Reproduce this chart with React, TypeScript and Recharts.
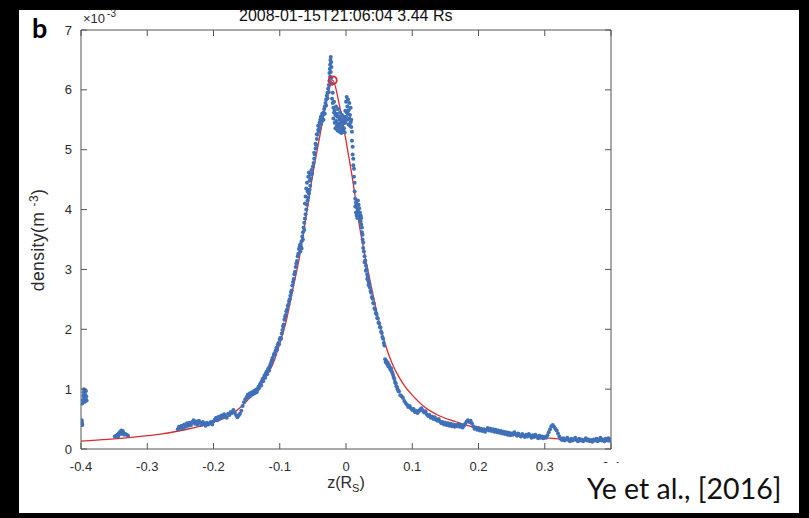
import { ComposedChart, Scatter, Line, XAxis, YAxis, ReferenceDot } from "recharts";

const zTicks = [-0.4, -0.3, -0.2, -0.1, 0, 0.1, 0.2, 0.3, 0.4];
const densityTicks = [0, 1, 2, 3, 4, 5, 6, 7];

// fitted profile (red line)
const fitZ = [
  -0.4, -0.36, -0.32, -0.28, -0.24, -0.2, -0.18, -0.16, -0.14, -0.12, -0.11, -0.1, -0.09, -0.08,
  -0.07, -0.06, -0.05, -0.04, -0.03, -0.02, -0.01, 0, 0.01, 0.02, 0.03, 0.04, 0.05, 0.06, 0.07,
  0.08, 0.09, 0.1, 0.12, 0.14, 0.17, 0.2, 0.24, 0.28, 0.32, 0.36, 0.4,
];
const fitDensity = [
  0.13, 0.16, 0.2, 0.25, 0.33, 0.45, 0.53, 0.69, 0.92, 1.22, 1.43, 1.76, 2.15, 2.68,
  3.22, 3.9, 4.6, 5.2, 5.78, 6.16, 5.75, 5.15, 4.5, 3.75, 3.15, 2.62, 2.12, 1.72, 1.42,
  1.2, 1.03, 0.9, 0.69, 0.56, 0.44, 0.34, 0.26, 0.21, 0.17, 0.145, 0.12,
];
const peakZ = -0.02;
const peakDensity = 6.16;

// measured density samples (blue dots)
const edgeSamples: [number, number][] = [
  [-0.3995, 0.41], [-0.399, 0.45], [-0.399, 0.48], [-0.3985, 0.43], [-0.398, 0.4],
  [-0.398, 0.76], [-0.397, 0.82], [-0.3965, 0.89], [-0.396, 0.95], [-0.3955, 1.0],
  [-0.395, 0.86], [-0.394, 0.79], [-0.394, 0.92], [-0.393, 0.84], [-0.3925, 0.97],
  [-0.392, 0.88], [-0.3915, 0.81],
];

const gapSamples: [number, number][] = [
  [-0.349, 0.21], [-0.347, 0.22], [-0.345, 0.24], [-0.344, 0.21], [-0.343, 0.26],
  [-0.341, 0.29], [-0.340, 0.25], [-0.339, 0.31], [-0.338, 0.27], [-0.337, 0.3],
  [-0.336, 0.27], [-0.335, 0.24], [-0.333, 0.25], [-0.331, 0.24], [-0.329, 0.22],
];

const leftTail: [number, number][] = [
  [-0.254, 0.33], [-0.252, 0.37], [-0.25, 0.35], [-0.248, 0.39], [-0.246, 0.34], [-0.244, 0.41],
  [-0.242, 0.37], [-0.24, 0.43], [-0.238, 0.39], [-0.236, 0.44], [-0.234, 0.4], [-0.232, 0.45],
  [-0.23, 0.48], [-0.228, 0.42], [-0.226, 0.46], [-0.224, 0.41], [-0.222, 0.47], [-0.22, 0.44],
  [-0.218, 0.4], [-0.216, 0.45], [-0.214, 0.42], [-0.212, 0.39], [-0.21, 0.44], [-0.208, 0.41],
  [-0.206, 0.43], [-0.204, 0.45], [-0.202, 0.41], [-0.2, 0.46], [-0.198, 0.49], [-0.196, 0.52],
  [-0.194, 0.48], [-0.192, 0.54], [-0.19, 0.51], [-0.188, 0.56], [-0.186, 0.53], [-0.184, 0.58],
  [-0.182, 0.55], [-0.18, 0.52], [-0.178, 0.59], [-0.176, 0.57], [-0.174, 0.62], [-0.172, 0.6],
  [-0.17, 0.65], [-0.168, 0.61], [-0.166, 0.57], [-0.164, 0.53], [-0.162, 0.56], [-0.16, 0.59],
  [-0.158, 0.64], [-0.156, 0.72], [-0.154, 0.78], [-0.152, 0.83], [-0.15, 0.86],
];

const leftFlank: [number, number][] = [
  [-0.149, 0.88], [-0.148, 0.91], [-0.147, 0.87], [-0.146, 0.9], [-0.145, 0.93], [-0.144, 0.89],
  [-0.143, 0.92], [-0.142, 0.95], [-0.141, 0.91], [-0.14, 0.94], [-0.139, 0.97], [-0.138, 0.93],
  [-0.137, 0.96], [-0.136, 0.99], [-0.135, 0.95], [-0.134, 0.98], [-0.133, 1.01], [-0.132, 1.04],
  [-0.131, 1.02], [-0.13, 1.07], [-0.129, 1.1], [-0.128, 1.06], [-0.127, 1.13], [-0.126, 1.17],
  [-0.125, 1.13], [-0.124, 1.19], [-0.123, 1.23], [-0.122, 1.19], [-0.121, 1.26], [-0.12, 1.29],
  [-0.119, 1.25], [-0.118, 1.32], [-0.117, 1.35], [-0.116, 1.31], [-0.115, 1.38], [-0.114, 1.41],
  [-0.113, 1.44], [-0.112, 1.48], [-0.111, 1.52], [-0.11, 1.5], [-0.109, 1.57], [-0.108, 1.6],
  [-0.107, 1.58], [-0.106, 1.65], [-0.105, 1.69], [-0.104, 1.66], [-0.103, 1.74], [-0.102, 1.77],
  [-0.101, 1.75], [-0.1, 1.83], [-0.099, 1.86], [-0.098, 1.84], [-0.097, 1.93], [-0.096, 1.99],
  [-0.095, 2.05], [-0.094, 2.08], [-0.093, 2.16], [-0.092, 2.21], [-0.091, 2.24], [-0.09, 2.3],
  [-0.089, 2.33], [-0.088, 2.39], [-0.087, 2.41], [-0.086, 2.47], [-0.085, 2.5], [-0.084, 2.56],
  [-0.083, 2.62], [-0.082, 2.65], [-0.081, 2.73], [-0.08, 2.79], [-0.079, 2.84], [-0.078, 2.92],
  [-0.077, 2.96], [-0.076, 3.04], [-0.075, 3.1], [-0.074, 3.14], [-0.073, 3.22], [-0.072, 3.26],
  [-0.071, 3.34], [-0.07, 3.38], [-0.069, 3.3], [-0.069, 3.42], [-0.068, 3.38], [-0.067, 3.47],
  [-0.067, 3.35], [-0.066, 3.55], [-0.065, 3.5], [-0.065, 3.62], [-0.064, 3.7], [-0.063, 3.78],
  [-0.063, 3.66], [-0.062, 3.85], [-0.062, 4.1], [-0.061, 3.92], [-0.061, 4.22], [-0.06, 4.0],
  [-0.06, 4.35], [-0.059, 4.08], [-0.059, 4.45], [-0.058, 4.15], [-0.058, 4.3], [-0.057, 4.2],
  [-0.057, 4.55], [-0.056, 4.27], [-0.056, 4.62], [-0.055, 4.33], [-0.055, 4.48], [-0.054, 4.4],
  [-0.054, 4.58], [-0.053, 4.52], [-0.052, 4.66], [-0.051, 4.6], [-0.05, 4.72], [-0.049, 4.78],
  [-0.048, 4.85], [-0.048, 4.95], [-0.047, 4.92], [-0.046, 5.02], [-0.046, 5.1], [-0.045, 5.08],
  [-0.044, 5.18], [-0.044, 5.26], [-0.043, 5.25], [-0.042, 5.33], [-0.042, 5.4], [-0.041, 5.3],
  [-0.04, 5.45], [-0.04, 5.36], [-0.039, 5.5], [-0.038, 5.42], [-0.038, 5.55], [-0.037, 5.52],
  [-0.036, 5.48], [-0.036, 5.6], [-0.035, 5.58], [-0.034, 5.62], [-0.034, 5.5], [-0.033, 5.68],
  [-0.032, 5.72], [-0.032, 5.6], [-0.031, 5.78], [-0.03, 5.84], [-0.03, 5.74], [-0.029, 5.9],
  [-0.028, 5.95], [-0.028, 5.86], [-0.027, 6.02], [-0.026, 6.08], [-0.026, 5.96], [-0.025, 6.15],
  [-0.025, 6.28], [-0.0245, 6.35], [-0.024, 6.22], [-0.024, 6.42], [-0.0235, 6.5], [-0.023, 6.3],
  [-0.023, 6.55], [-0.0225, 6.46], [-0.022, 6.38], [-0.022, 6.2], [-0.021, 6.1], [-0.021, 5.85],
  [-0.02, 5.78], [-0.02, 5.95],
];

const peakTop: [number, number][] = [
  [-0.019, 5.7], [-0.019, 5.52], [-0.018, 5.62], [-0.018, 5.8], [-0.017, 5.45], [-0.017, 5.66],
  [-0.016, 5.58], [-0.016, 5.36], [-0.015, 5.72], [-0.015, 5.48], [-0.014, 5.4], [-0.014, 5.6],
  [-0.013, 5.55], [-0.013, 5.32], [-0.012, 5.68], [-0.012, 5.44], [-0.011, 5.38], [-0.011, 5.56],
  [-0.01, 5.5], [-0.01, 5.3], [-0.009, 5.62], [-0.009, 5.42], [-0.008, 5.35], [-0.008, 5.52],
  [-0.007, 5.46], [-0.007, 5.28], [-0.006, 5.58], [-0.006, 5.38], [-0.005, 5.32], [-0.005, 5.48],
  [-0.004, 5.44], [-0.004, 5.3], [-0.003, 5.36], [-0.003, 5.55], [-0.002, 5.5], [-0.002, 5.29],
  [-0.001, 5.65], [-0.001, 5.45], [0, 5.8], [0, 5.55], [0.001, 5.88], [0.001, 5.62],
  [0.002, 5.72], [0.002, 5.5], [0.003, 5.84], [0.003, 5.6], [0.004, 5.66], [0.004, 5.42],
  [0.005, 5.78], [0.005, 5.52], [0.006, 5.58], [0.006, 5.4], [0.007, 5.7], [0.007, 5.46],
  [0.008, 5.5], [0.008, 5.38], [0.009, 5.3], [0.009, 5.15], [0.01, 5.05], [0.01, 4.92],
  [0.011, 4.85], [0.011, 4.74], [0.012, 4.68], [0.012, 4.55], [0.013, 4.45], [0.013, 4.3],
];

const rightFlank: [number, number][] = [
  [0.014, 4.18], [0.014, 4.05], [0.015, 4.12], [0.015, 3.95], [0.016, 4.08], [0.016, 3.9],
  [0.017, 4.02], [0.017, 3.86], [0.018, 3.98], [0.018, 4.15], [0.019, 3.92], [0.019, 4.08],
  [0.02, 3.88], [0.02, 4.02], [0.021, 3.95], [0.021, 3.84], [0.022, 3.9], [0.022, 3.8],
  [0.023, 3.86], [0.023, 3.75], [0.024, 3.7], [0.024, 3.62], [0.025, 3.58], [0.025, 3.5],
  [0.026, 3.45], [0.026, 3.36], [0.027, 3.3], [0.028, 3.22], [0.028, 3.12], [0.029, 3.15],
  [0.03, 3.06], [0.03, 2.98], [0.031, 3.0], [0.032, 2.92], [0.032, 2.84], [0.033, 2.88],
  [0.034, 2.8], [0.034, 2.74], [0.035, 2.77], [0.036, 2.7], [0.037, 2.64], [0.038, 2.61],
  [0.039, 2.54], [0.04, 2.51], [0.041, 2.44], [0.042, 2.43], [0.043, 2.35], [0.044, 2.33],
  [0.045, 2.27], [0.046, 2.25], [0.047, 2.19], [0.048, 2.18], [0.049, 2.11], [0.05, 2.1],
  [0.051, 2.04], [0.052, 2.03], [0.053, 1.96], [0.054, 1.94], [0.055, 1.87], [0.056, 1.84],
  [0.057, 1.77], [0.058, 1.73], [0.059, 1.5], [0.06, 1.45], [0.061, 1.47], [0.062, 1.42],
  [0.063, 1.44], [0.064, 1.38], [0.065, 1.4], [0.066, 1.36], [0.067, 1.33], [0.068, 1.35],
  [0.069, 1.3], [0.07, 1.27], [0.071, 1.24], [0.072, 1.2], [0.073, 1.17], [0.074, 1.12],
  [0.075, 1.1], [0.076, 1.05], [0.077, 1.03], [0.078, 1.0], [0.079, 0.97], [0.08, 0.96],
  [0.082, 0.9], [0.084, 0.88], [0.086, 0.85], [0.088, 0.8], [0.09, 0.77], [0.092, 0.74],
  [0.094, 0.7], [0.096, 0.72], [0.098, 0.68], [0.1, 0.65], [0.102, 0.67], [0.104, 0.62],
  [0.106, 0.64], [0.108, 0.6], [0.11, 0.63], [0.112, 0.66], [0.114, 0.68], [0.116, 0.64],
  [0.118, 0.61], [0.12, 0.63], [0.122, 0.58], [0.124, 0.55], [0.126, 0.57], [0.128, 0.52],
  [0.13, 0.54], [0.132, 0.5], [0.134, 0.53], [0.136, 0.49], [0.138, 0.47], [0.14, 0.5],
];

const rightTail: [number, number][] = [
  [0.142, 0.46], [0.144, 0.43], [0.146, 0.45], [0.148, 0.41], [0.15, 0.44], [0.152, 0.4],
  [0.154, 0.43], [0.156, 0.39], [0.158, 0.42], [0.16, 0.38], [0.162, 0.41], [0.164, 0.37],
  [0.166, 0.4], [0.168, 0.38], [0.17, 0.41], [0.172, 0.37], [0.174, 0.4], [0.176, 0.36],
  [0.178, 0.39], [0.18, 0.42], [0.182, 0.46], [0.184, 0.48], [0.186, 0.45], [0.188, 0.47],
  [0.19, 0.43], [0.192, 0.38], [0.194, 0.34], [0.196, 0.36], [0.198, 0.32], [0.2, 0.35],
  [0.202, 0.31], [0.204, 0.34], [0.206, 0.3], [0.208, 0.33], [0.21, 0.29], [0.212, 0.32],
  [0.214, 0.35], [0.216, 0.31], [0.218, 0.34], [0.22, 0.3], [0.222, 0.33], [0.224, 0.29],
  [0.226, 0.32], [0.228, 0.28], [0.23, 0.31], [0.232, 0.27], [0.234, 0.3], [0.236, 0.26],
  [0.238, 0.29], [0.24, 0.25], [0.242, 0.28], [0.244, 0.24], [0.246, 0.27], [0.248, 0.23],
  [0.25, 0.26], [0.252, 0.24], [0.254, 0.28], [0.256, 0.25], [0.258, 0.22], [0.26, 0.26],
  [0.262, 0.23], [0.264, 0.21], [0.266, 0.25], [0.268, 0.22], [0.27, 0.2], [0.272, 0.24],
  [0.274, 0.21], [0.276, 0.25], [0.278, 0.22], [0.28, 0.19], [0.282, 0.23], [0.284, 0.2],
  [0.286, 0.24], [0.288, 0.21], [0.29, 0.18], [0.292, 0.22], [0.294, 0.19], [0.296, 0.21],
  [0.298, 0.18], [0.3, 0.2], [0.302, 0.19], [0.304, 0.23], [0.306, 0.28], [0.308, 0.33],
  [0.31, 0.38], [0.312, 0.4], [0.314, 0.37], [0.316, 0.34], [0.318, 0.31], [0.32, 0.26],
  [0.322, 0.21], [0.324, 0.17], [0.326, 0.15], [0.328, 0.18], [0.33, 0.14], [0.332, 0.16],
  [0.334, 0.19], [0.336, 0.15], [0.338, 0.13], [0.34, 0.17], [0.342, 0.14], [0.344, 0.16],
  [0.346, 0.19], [0.348, 0.15], [0.35, 0.13], [0.352, 0.17], [0.354, 0.14], [0.356, 0.16],
  [0.358, 0.13], [0.36, 0.15], [0.362, 0.18], [0.364, 0.14], [0.366, 0.16], [0.368, 0.13],
  [0.37, 0.15], [0.372, 0.12], [0.374, 0.16], [0.376, 0.14], [0.378, 0.17], [0.38, 0.13],
  [0.382, 0.15], [0.384, 0.19], [0.386, 0.14], [0.388, 0.16], [0.39, 0.13], [0.392, 0.17],
  [0.394, 0.15], [0.396, 0.18], [0.398, 0.14], [0.4, 0.16],
];

const BLUE = "#3f70b8";
const RED = "#dd2a2e";
const AXIS = "#555555";
const TEXT = "#2b2b2b";
const FONT = "'Liberation Sans', Arial, sans-serif";
const TICK_LEN = 6;
const X_GAP = 13;
const Y_GAP = 9;

const samples = [...edgeSamples, ...gapSamples, ...leftTail, ...leftFlank, ...peakTop, ...rightFlank, ...rightTail].map(
  ([z, n]) => ({ z, n })
);
const fitData = fitZ.map((z, i) => ({ z, n: fitDensity[i] }));

const fmtZ = (v: number) => (v === 0 ? "0" : String(Number(v.toFixed(1))));

const Dot = (p: any) => <circle cx={p.cx} cy={p.cy} r={2} fill={BLUE} />;
const NoDot = () => <g />;

// MATLAB-style inward ticks, drawn from the positions recharts hands to the tick renderer
const BottomTick = (p: any) => {
  const axisY = p.y - X_GAP;
  return (
    <g>
      <line x1={p.x} x2={p.x} y1={axisY} y2={axisY - TICK_LEN} stroke={AXIS} />
      <text x={p.x} y={p.y} dy="0.71em" textAnchor="middle" fill={TEXT} fontSize={13} fontFamily={FONT}>
        {fmtZ(p.payload.value)}
      </text>
    </g>
  );
};
const LeftTick = (p: any) => {
  const axisX = p.x + Y_GAP;
  return (
    <g>
      <line x1={axisX} x2={axisX + TICK_LEN} y1={p.y} y2={p.y} stroke={AXIS} />
      <text x={p.x} y={p.y} dy="0.355em" textAnchor="end" fill={TEXT} fontSize={13} fontFamily={FONT}>
        {p.payload.value}
      </text>
    </g>
  );
};
const TopTick = (p: any) => <line x1={p.x} x2={p.x} y1={p.y} y2={p.y + TICK_LEN} stroke={AXIS} />;
const RightTick = (p: any) => <line x1={p.x} x2={p.x - TICK_LEN} y1={p.y} y2={p.y} stroke={AXIS} />;

export default function App() {
  return (
    <div style={{ position: "fixed", left: 0, top: 0, width: 809, height: 518, background: "#000", fontFamily: FONT }}>
      <div style={{ position: "absolute", left: 19, top: 10, width: 780, height: 503, background: "#fff" }} />
      <div style={{ position: "absolute", left: 0, top: 0 }}>
        <ComposedChart width={809} height={518} margin={{ top: 29, right: 197, bottom: 39, left: 31 }}>
          <XAxis
            dataKey="z"
            type="number"
            domain={[-0.4, 0.4]}
            ticks={zTicks}
            interval={0}
            allowDataOverflow
            height={30}
            tickSize={0}
            tickMargin={X_GAP}
            tickLine={false}
            stroke={AXIS}
            tick={BottomTick}
          />
          <XAxis
            xAxisId="top"
            dataKey="z"
            orientation="top"
            type="number"
            domain={[-0.4, 0.4]}
            ticks={zTicks}
            interval={0}
            allowDataOverflow
            height={1}
            tickSize={0}
            tickMargin={0}
            tickLine={false}
            stroke={AXIS}
            tick={TopTick}
          />
          <YAxis
            type="number"
            domain={[0, 7]}
            ticks={densityTicks}
            interval={0}
            allowDataOverflow
            width={50}
            tickSize={0}
            tickMargin={Y_GAP}
            tickLine={false}
            stroke={AXIS}
            tick={LeftTick}
          />
          <YAxis
            yAxisId="right"
            orientation="right"
            type="number"
            domain={[0, 7]}
            ticks={densityTicks}
            interval={0}
            allowDataOverflow
            width={1}
            tickSize={0}
            tickMargin={0}
            tickLine={false}
            stroke={AXIS}
            tick={RightTick}
          />
          {/* hidden copy so the top / right box axes get drawn */}
          <Scatter data={samples} dataKey="n" xAxisId="top" yAxisId="right" shape={NoDot} isAnimationActive={false} />
          <Scatter data={samples} dataKey="n" shape={Dot} isAnimationActive={false} />
          <Line
            data={fitData}
            dataKey="n"
            type="monotone"
            stroke={RED}
            strokeWidth={1.3}
            dot={false}
            activeDot={false}
            isAnimationActive={false}
          />
          <ReferenceDot x={peakZ} y={peakDensity} r={4} fill="none" stroke={RED} strokeWidth={1.8} />
        </ComposedChart>
      </div>
      <div style={{ position: "absolute", left: 239, top: 7, fontSize: 16, color: "#111", whiteSpace: "nowrap" }}>
        2008-01-15T21:06:04 3.44 Rs
      </div>
      <div style={{ position: "absolute", left: 32, top: 11, fontSize: 27, fontWeight: 700, color: "#000", fontFamily: "Lato, sans-serif" }}>
        b
      </div>
      <div style={{ position: "absolute", left: 83, top: 9, fontSize: 13, color: TEXT, whiteSpace: "nowrap" }}>
        ×10<sup style={{ fontSize: 10, position: "relative", top: -1, marginLeft: 2 }}>-3</sup>
      </div>
      <div
        style={{
          position: "absolute",
          left: 38,
          top: 240,
          transform: "translate(-50%, -50%) rotate(-90deg)",
          fontSize: 17.5,
          letterSpacing: 0.4,
          color: TEXT,
          whiteSpace: "nowrap",
        }}
      >
        density(m <sup style={{ fontSize: 12 }}>-3</sup>)
      </div>
      <div
        style={{
          position: "absolute",
          left: 346,
          top: 484,
          transform: "translate(-50%, -50%)",
          fontSize: 16,
          color: TEXT,
          whiteSpace: "nowrap",
        }}
      >
        z(R<sub style={{ fontSize: 11 }}>S</sub>)
      </div>
      <div
        style={{
          position: "absolute",
          left: 580,
          top: 463,
          width: 219,
          height: 50,
          background: "#fff",
          fontSize: 28.5,
          color: "#111",
          fontFamily: "Lato, sans-serif",
          whiteSpace: "nowrap",
          paddingLeft: 7,
          boxSizing: "border-box",
          lineHeight: "50px",
        }}
      >
        Ye et al., [2016]
      </div>
    </div>
  );
}
